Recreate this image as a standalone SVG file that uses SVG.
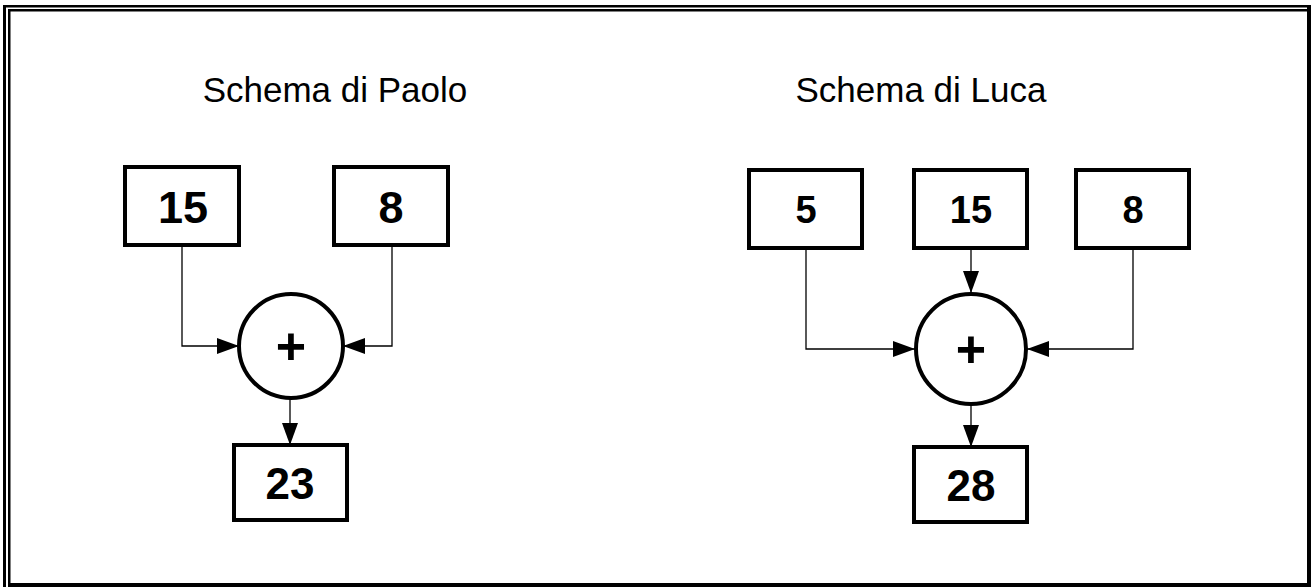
<svg xmlns="http://www.w3.org/2000/svg" width="1313" height="587" viewBox="0 0 1313 587">
<style>
.box{fill:#fff;stroke:#000;stroke-width:4}
.circ{fill:#fff;stroke:#000;stroke-width:4}
.num{font-family:"Liberation Sans",Arial,sans-serif;font-weight:bold;fill:#000;text-anchor:middle}
.title{font-family:"Liberation Sans",Arial,sans-serif;font-size:35px;fill:#000;text-anchor:middle}
.conn{fill:none;stroke:#000;stroke-width:1.3}
</style>
<defs>
<marker id="arr" markerUnits="userSpaceOnUse" markerWidth="22" markerHeight="16" refX="22" refY="8" orient="auto">
<path d="M0,0 L22,8 L0,16 Z" fill="#000"/>
</marker>
</defs>
<rect width="1313" height="587" fill="#fff"/>
<g id="frame" fill="#000">
<rect x="3" y="5" width="3" height="582"/>
<rect x="3" y="5" width="1306" height="2.5"/>
<rect x="8" y="9" width="2.5" height="577"/>
<rect x="8" y="9" width="1301" height="2.5"/>
<rect x="1307" y="5" width="4" height="582"/>
<rect x="8" y="583" width="1303" height="4"/>
</g>
<g id="title-paolo"><text class="title" x="335" y="102">Schema di Paolo</text></g>
<g id="title-luca"><text class="title" x="921" y="102">Schema di Luca</text></g>
<g id="connectors">
<path class="conn" d="M182,246 V346 H239" marker-end="url(#arr)"/>
<path class="conn" d="M392,246 V346 H343" marker-end="url(#arr)"/>
<path class="conn" d="M290,398 V445" marker-end="url(#arr)"/>
<path class="conn" d="M806,249 V349 H915" marker-end="url(#arr)"/>
<path class="conn" d="M971,249 V293" marker-end="url(#arr)"/>
<path class="conn" d="M1133,249 V349 H1027" marker-end="url(#arr)"/>
<path class="conn" d="M971,405 V447" marker-end="url(#arr)"/>
</g>
<g id="p15"><rect class="box" x="125" y="167" width="114" height="78"/><text class="num" x="183" y="223" font-size="45">15</text></g>
<g id="p8"><rect class="box" x="334" y="167" width="114" height="78"/><text class="num" x="391" y="223" font-size="45">8</text></g>
<g id="psum"><circle class="circ" cx="291" cy="346" r="52"/><text class="num" x="291" y="364" font-size="52">+</text></g>
<g id="p23"><rect class="box" x="234" y="445" width="113" height="75"/><text class="num" x="290" y="499" font-size="44">23</text></g>
<g id="l5"><rect class="box" x="749" y="170" width="113" height="78"/><text class="num" x="806" y="223" font-size="38">5</text></g>
<g id="l15"><rect class="box" x="914" y="170" width="113" height="78"/><text class="num" x="971" y="223" font-size="38">15</text></g>
<g id="l8"><rect class="box" x="1076" y="170" width="113" height="78"/><text class="num" x="1133" y="223" font-size="38">8</text></g>
<g id="lsum"><circle class="circ" cx="971" cy="349" r="55"/><text class="num" x="971" y="367" font-size="52">+</text></g>
<g id="l28"><rect class="box" x="914" y="447" width="113" height="75"/><text class="num" x="971" y="501" font-size="44">28</text></g>
</svg>
